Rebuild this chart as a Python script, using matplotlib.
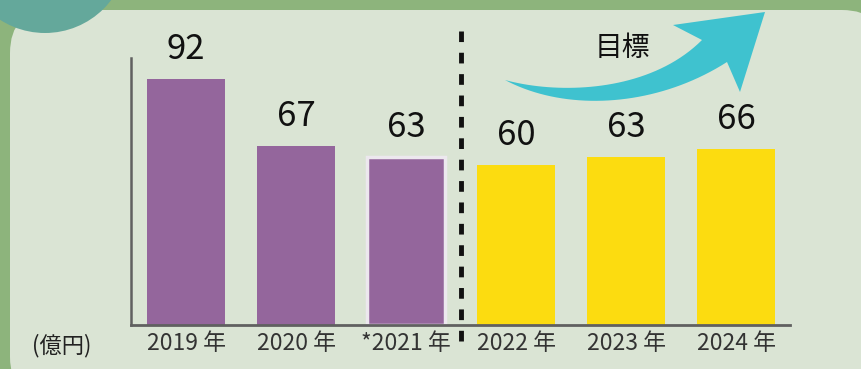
import numpy as np
import matplotlib
matplotlib.use("Agg")
import matplotlib.pyplot as plt
from matplotlib.patches import FancyBboxPatch, Ellipse, Polygon

plt.rcParams['font.family'] = ['Noto Sans CJK JP', 'DejaVu Sans']

# data
years = ['2019 年', '2020 年', '*2021 年', '2022 年', '2023 年', '2024 年']
values = [92, 67, 63, 60, 63, 66]
colors = ['#94669c', '#94669c', '#94669c', '#fcdc10', '#fcdc10', '#fcdc10']

W, H = 862, 369
fig = plt.figure(figsize=(W / 100, H / 100), dpi=100)
fig.patch.set_facecolor('#8db47c')


def px(x, y):
    # pixel coords (from top-left) -> figure fraction
    return x / W, 1 - y / H


# light panel behind the chart
x0, y0 = px(10, 400)
x1, y1 = px(885, 10)
panel = FancyBboxPatch((x0, y0), x1 - x0, y1 - y0,
                       boxstyle="round,pad=0,rounding_size=0.05",
                       mutation_aspect=W / H,
                       transform=fig.transFigure, facecolor='#dae4d4',
                       edgecolor='none', zorder=-2)
fig.patches.append(panel)

# teal circle top-left
cx, cy = px(45, -50)
circ = Ellipse((cx, cy), 2 * 83 / W, 2 * 83 / H, transform=fig.transFigure,
               facecolor='#64a89b', edgecolor='none', zorder=-1)
fig.patches.append(circ)

ax = fig.add_axes([131 / W, 44 / H, 659 / W, 267 / H])
ax.set_zorder(2)
ax.set_facecolor('none')
x = np.arange(len(values))
bars = ax.bar(x, values, width=0.71, color=colors, zorder=2)
bars[2].set_edgecolor('#ece8ee')
bars[2].set_linewidth(2.5)

ax.set_xlim(-0.5, 5.49)
ax.set_ylim(0, 100)
ax.set_yticks([])
ax.set_xticks(x)
ax.set_xticklabels(years, fontsize=16.5, color='#333333')
ax.tick_params(axis='x', length=0, pad=5)
for s in ['top', 'right']:
    ax.spines[s].set_visible(False)
ax.spines['left'].set_color('#606060')
ax.spines['left'].set_linewidth(1.8)
ax.spines['bottom'].set_color('#606060')
ax.spines['bottom'].set_linewidth(2)

for xi, v in zip(x, values):
    ax.text(xi, v + 4.5, str(v), ha='center', va='bottom', fontsize=25,
            color='#111111')

# dashed divider
ax.plot([2.5, 2.5], [-6, 110], color='#111111', lw=3.5,
        linestyle=(0, (2.2, 2.2)), clip_on=False, zorder=3)

fig.text(32 / W, 1 - 346 / H, '(億円)', fontsize=16, va='center',
         ha='left', color='#222222')
fig.text(622 / W, 1 - 48 / H, '目標', fontsize=20, va='center',
         ha='center', color='#111111', zorder=6)


# arrow
def bez(p0, p1, p2, p3, n=40):
    t = np.linspace(0, 1, n)[:, None]
    p0, p1, p2, p3 = map(np.array, (p0, p1, p2, p3))
    return ((1 - t) ** 3 * p0 + 3 * (1 - t) ** 2 * t * p1
            + 3 * (1 - t) * t ** 2 * p2 + t ** 3 * p3)


lower = bez((505, 80), (565, 112), (655, 108), (727, 62))
upper = bez((505, 80), (560, 95), (650, 92), (702, 40))[::-1]
head = np.array([(740, 92), (765, 12), (673, 25)])
pts = np.vstack([lower, head, upper])
pts_fig = np.column_stack([pts[:, 0] / W, 1 - pts[:, 1] / H])
arrow = Polygon(pts_fig, closed=True, transform=fig.transFigure,
                facecolor='#3fc2cf', edgecolor='none', zorder=5)
fig.patches.append(arrow)

fig.savefig('out.png', dpi=100, facecolor=fig.get_facecolor())
